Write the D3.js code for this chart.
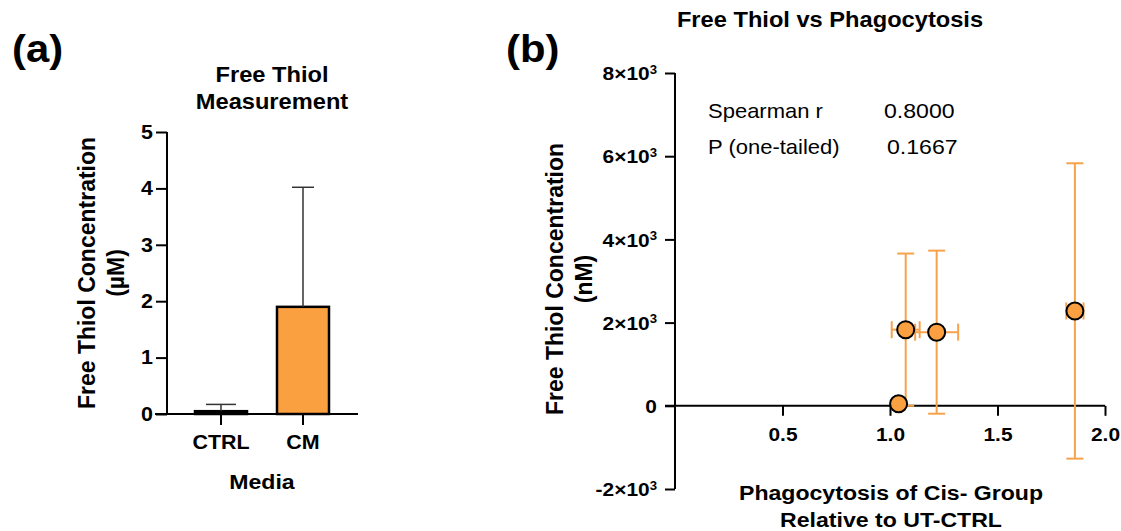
<!DOCTYPE html>
<html>
<head>
<meta charset="utf-8">
<script src="https://cdn.jsdelivr.net/npm/d3@7"></script>
<style>
  body { margin: 0; background: #fff; }
  svg { font-family: "Liberation Sans", Arial, sans-serif; }
  .bold { font-weight: bold; }
</style>
</head>
<body>
<svg id="chart" width="1121" height="531"></svg>
<script>
// panel (a) data
var media = ['CTRL', 'CM'];
var thiolMean = [0.05, 1.9];
var thiolSd = [0.12, 2.12];
var yTicksA = [0, 1, 2, 3, 4, 5];

// panel (b) data
var phago = [1.04, 1.073, 1.217, 1.86];
var phagoErr = [0, 0.065, 0.10, 0.04];
var thiolNm = [50, 1830, 1770, 2280];
var thiolNmErr = [0, 1830, 1960, 3550];
var xTicksB = [0.5, 1.0, 1.5, 2.0];
var yTicksB = [-2000, 0, 2000, 4000, 6000, 8000];
var statsLabels = ['Spearman r', 'P (one-tailed)'];
var statsValues = ['0.8000', '0.1667'];

var orange = '#FBA040';
var orangeLine = '#F7A24B';
var SX = 1.1; // text in the original looks a little wide

var svg = d3.select('#chart');

// text helper: stretched a bit horizontally, or rotated for y labels
function label(g, x, y, str, size, opts) {
  opts = opts || {};
  var tr = 'translate(' + x + ',' + y + ')' + (opts.rotate ? ' rotate(-90)' : ' scale(' + SX + ',1)');
  var t = g.append('text')
    .attr('transform', tr)
    .attr('font-size', size)
    .attr('text-anchor', opts.anchor || 'middle')
    .text(str);
  if (opts.bold !== false) t.attr('class', 'bold');
  return t;
}

function styleTicks(axis, size, xOff) {
  axis.selectAll('text').attr('class', 'bold').attr('font-size', size)
    .attr('font-family', '"Liberation Sans", Arial, sans-serif').attr('fill', '#000')
    .attr('transform', 'scale(' + SX + ',1)');
  if (xOff !== undefined) axis.selectAll('text').attr('x', xOff / SX);
}

// ---------- panel (a) ----------
var a = svg.append('g');
var yA = d3.scaleLinear().domain([0, 5]).range([414, 132]);
var xA = d3.scaleBand().domain(media).range([180, 344]).padding(0);
var barW = 52;

label(a, 12, 62, '(a)', 38, {anchor: 'start'});
label(a, 272, 82, 'Free Thiol', 21.5);
label(a, 272, 109, 'Measurement', 21.5);

// y axis
var yAxisA = a.append('g').attr('transform', 'translate(167,0)')
  .call(d3.axisLeft(yA).tickValues(yTicksA).tickSize(11).tickPadding(4).tickFormat(d3.format('d')));
yAxisA.select('.domain').attr('d', 'M0,' + yA(5) + 'V' + yA(0));
yAxisA.selectAll('line, path').attr('stroke', '#000').attr('stroke-width', 2);
styleTicks(yAxisA, 19.5, -14);

// bars
a.selectAll('rect.bar').data(media).enter().append('rect')
  .attr('class', 'bar')
  .attr('x', function(d) { return xA(d) + xA.bandwidth() / 2 - barW / 2; })
  .attr('width', barW)
  .attr('y', function(d, i) { return yA(thiolMean[i]); })
  .attr('height', function(d, i) { return yA(0) - yA(thiolMean[i]); })
  .attr('fill', function(d, i) { return i === 0 ? '#000' : orange; })
  .attr('stroke', '#000').attr('stroke-width', 2.5);

// error bars (upper only)
media.forEach(function(d, i) {
  var cx = xA(d) + xA.bandwidth() / 2;
  var capW = i === 0 ? 15 : 11;
  var top = yA(thiolMean[i] + thiolSd[i]);
  a.append('line').attr('x1', cx).attr('x2', cx)
    .attr('y1', yA(thiolMean[i])).attr('y2', top)
    .attr('stroke', '#333').attr('stroke-width', 1.5);
  a.append('line').attr('x1', cx - capW).attr('x2', cx + capW)
    .attr('y1', top).attr('y2', top)
    .attr('stroke', '#333').attr('stroke-width', 1.5);
});

// x axis
var xAxisA = a.append('g').attr('transform', 'translate(0,' + yA(0) + ')')
  .call(d3.axisBottom(xA).tickSize(11).tickPadding(10));
xAxisA.select('.domain').attr('d', 'M155,0H358');
xAxisA.selectAll('line, path').attr('stroke', '#000').attr('stroke-width', 2);
styleTicks(xAxisA, 19.5);

label(a, 262, 489, 'Media', 21);
label(a, 95, 273, 'Free Thiol Concentration', 23, {rotate: true});
label(a, 124, 273, '(µM)', 23, {rotate: true});

// ---------- panel (b) ----------
var b = svg.append('g');
var xB = d3.scaleLinear().domain([0, 2]).range([675, 1105]);
var yB = d3.scaleLinear().domain([-2000, 8000]).range([489, 73]);

label(b, 506, 62, '(b)', 38, {anchor: 'start'});
label(b, 830, 27, 'Free Thiol vs Phagocytosis', 21.5);

// y axis
var yAxisB = b.append('g').attr('transform', 'translate(' + xB(0) + ',0)')
  .call(d3.axisLeft(yB).tickValues(yTicksB).tickSize(10).tickFormat(''));
yAxisB.select('.domain').attr('d', 'M0,' + yB(-2000) + 'V' + yB(8000));
yAxisB.selectAll('line, path').attr('stroke', '#000').attr('stroke-width', 2);
yAxisB.selectAll('.tick').each(function(d) {
  var t = d3.select(this).append('text').attr('class', 'bold')
    .attr('transform', 'translate(-18,0) scale(' + SX + ',1)').attr('dy', '0.35em')
    .attr('text-anchor', 'end').attr('font-size', 19).attr('fill', '#000');
  if (d === 0) { t.text('0'); return; }
  t.append('tspan').text((d / 1000) + '×10');
  t.append('tspan').attr('font-size', 12).attr('dy', '-0.55em').text('3');
});

// x axis at y = 0
var xAxisB = b.append('g').attr('transform', 'translate(0,' + yB(0) + ')')
  .call(d3.axisBottom(xB).tickValues(xTicksB).tickSize(10).tickPadding(12).tickFormat(d3.format('.1f')));
xAxisB.select('.domain').attr('d', 'M665,0H' + xB(2));
xAxisB.selectAll('line, path').attr('stroke', '#000').attr('stroke-width', 2);
styleTicks(xAxisB, 19);

// stats text
statsLabels.forEach(function(s, i) {
  label(b, 708, 118 + i * 36, s, 20, {anchor: 'start', bold: false});
  label(b, 884 + i * 3, 118 + i * 36, statsValues[i], 21, {anchor: 'start', bold: false});
});

// error bars
var cap = 8.5;
phago.forEach(function(px, i) {
  var cx = xB(px), cy = yB(thiolNm[i]);
  if (thiolNmErr[i] > 0) {
    var y1 = yB(thiolNm[i] + thiolNmErr[i]), y2 = yB(thiolNm[i] - thiolNmErr[i]);
    b.append('line').attr('x1', cx).attr('x2', cx).attr('y1', y1).attr('y2', y2)
      .attr('stroke', orangeLine).attr('stroke-width', 2);
    [y1, y2].forEach(function(yy) {
      b.append('line').attr('x1', cx - cap).attr('x2', cx + cap).attr('y1', yy).attr('y2', yy)
        .attr('stroke', orangeLine).attr('stroke-width', 2);
    });
  }
  if (phagoErr[i] > 0) {
    var x1 = xB(px - phagoErr[i]), x2 = xB(px + phagoErr[i]);
    b.append('line').attr('x1', x1).attr('x2', x2).attr('y1', cy).attr('y2', cy)
      .attr('stroke', orangeLine).attr('stroke-width', 2);
    [x1, x2].forEach(function(xx) {
      b.append('line').attr('x1', xx).attr('x2', xx).attr('y1', cy - cap).attr('y2', cy + cap)
        .attr('stroke', orangeLine).attr('stroke-width', 2);
    });
  }
});

// points
b.selectAll('circle.pt').data(phago).enter().append('circle')
  .attr('class', 'pt')
  .attr('cx', function(d) { return xB(d); })
  .attr('cy', function(d, i) { return yB(thiolNm[i]); })
  .attr('r', 8.5)
  .attr('fill', orange).attr('stroke', '#000').attr('stroke-width', 2);

// axis labels
label(b, 891, 500, 'Phagocytosis of Cis- Group', 21);
label(b, 891, 527, 'Relative to UT-CTRL', 21);
label(b, 563, 279, 'Free Thiol Concentration', 23, {rotate: true});
label(b, 592, 279, '(nM)', 23, {rotate: true});
</script>
</body>
</html>
